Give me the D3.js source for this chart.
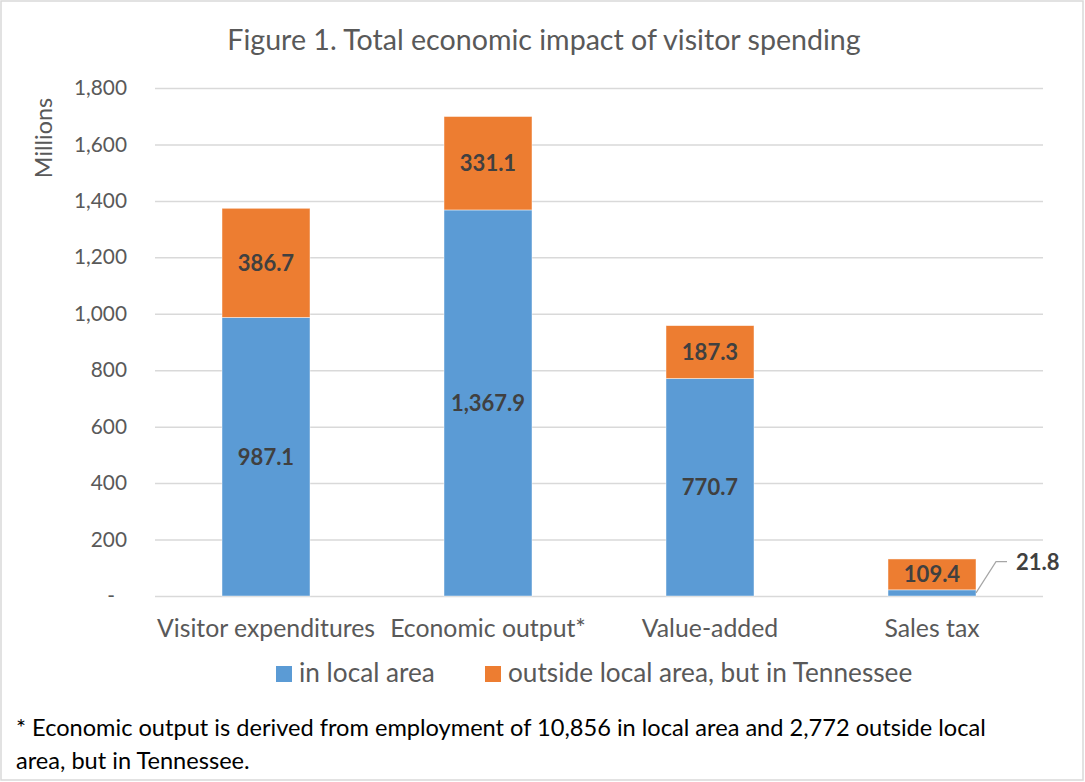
<!DOCTYPE html>
<html>
<head>
<meta charset="utf-8">
<script src="https://cdn.jsdelivr.net/npm/d3@7"></script>
<style>
  html, body { margin: 0; padding: 0; background: #fff; }
  svg { display: block; font-family: Lato, "Open Sans", sans-serif; }
</style>
</head>
<body>
<svg id="chart" width="1085" height="782"></svg>
<script>
// Chart data
const categories = ["Visitor expenditures", "Economic output*", "Value-added", "Sales tax"];
const localArea = [987.1, 1367.9, 770.7, 21.8];
const outsideLocal = [386.7, 331.1, 187.3, 109.4];
const seriesNames = ["in local area", "outside local area, but in Tennessee"];
const yTicks = [0, 200, 400, 600, 800, 1000, 1200, 1400, 1600, 1800];
const titleText = "Figure 1. Total economic impact of visitor spending";
const yAxisTitle = "Millions";
const footnoteLines = [
  "* Economic output is derived from employment of 10,856 in local area and 2,772 outside local",
  "area, but in Tennessee."
];

const colors = ["#5B9BD5", "#ED7D31"];
const textGray = "#595959";
const labelGray = "#404040";

const svg = d3.select("#chart");
const W = 1085, H = 782;

// Outer frame
svg.append("rect")
  .attr("x", 1).attr("y", 1).attr("width", W - 3).attr("height", H - 3)
  .attr("fill", "#fff").attr("stroke", "#d9d9d9").attr("stroke-width", 1.5);

const plot = { left: 155, right: 1043, top: 88, bottom: 596 };

const x = d3.scaleBand()
  .domain(categories)
  .range([plot.left, plot.right])
  .paddingInner(0.6036)
  .paddingOuter(0.3018);

const y = d3.scaleLinear()
  .domain([0, 1800])
  .range([plot.bottom, plot.top]);

// Gridlines
svg.append("g")
  .attr("transform", `translate(${plot.left},0)`)
  .call(d3.axisLeft(y).tickValues(yTicks).tickSize(-(plot.right - plot.left)).tickFormat(""))
  .call(g => g.select(".domain").remove())
  .call(g => g.selectAll("line").attr("stroke", "#d9d9d9").attr("stroke-width", 1.5));

// Y tick labels
const fmt = d3.format(",");
const yAxis = svg.append("g")
  .attr("transform", `translate(${plot.left},0)`)
  .call(d3.axisLeft(y).tickValues(yTicks).tickSize(0).tickPadding(28)
    .tickFormat(d => d === 0 ? "-" : fmt(d)));
yAxis.select(".domain").remove();
yAxis.selectAll("text")
  .attr("fill", textGray)
  .style("font-family", "Lato, sans-serif")
  .style("font-size", "20.8px");
yAxis.selectAll(".tick").filter(d => d === 0).select("text").attr("dx", -12);

// Y axis title
svg.append("text")
  .attr("transform", `translate(52,138) rotate(-90)`)
  .attr("text-anchor", "middle")
  .attr("fill", textGray)
  .style("font-size", "23.4px")
  .text(yAxisTitle);

// Stacked bars
const stacked = categories.map((c, i) => {
  const segs = [];
  segs.push({ cat: c, s: 0, y0: 0, y1: localArea[i], v: localArea[i] });
  segs.push({ cat: c, s: 1, y0: localArea[i], y1: localArea[i] + outsideLocal[i], v: outsideLocal[i] });
  return segs;
}).flat();

svg.append("g")
  .selectAll("rect")
  .data(stacked)
  .join("rect")
  .attr("x", d => x(d.cat))
  .attr("width", x.bandwidth())
  .attr("y", d => y(d.y1))
  .attr("height", d => y(d.y0) - y(d.y1))
  .attr("fill", d => colors[d.s])
  .attr("stroke", "#fff")
  .attr("stroke-opacity", 0.6)
  .attr("stroke-width", 0.75);

// Data labels (small segments get an outside label with leader line)
const labelFmt = d3.format(",.1f");
const inside = stacked.filter(d => (y(d.y0) - y(d.y1)) > 20);
const outside = stacked.filter(d => (y(d.y0) - y(d.y1)) <= 20);

svg.append("g")
  .selectAll("text")
  .data(inside)
  .join("text")
  .attr("x", d => x(d.cat) + x.bandwidth() / 2)
  .attr("y", d => (y(d.y0) + y(d.y1)) / 2)
  .attr("dy", "0.36em")
  .attr("text-anchor", "middle")
  .attr("fill", labelGray)
  .style("font-weight", "bold")
  .style("font-size", "22px")
  .text(d => labelFmt(d.v));

outside.forEach(d => {
  const x0 = x(d.cat) + x.bandwidth();
  const ym = (y(d.y0) + y(d.y1)) / 2;
  const ly = y(d.y1 + 100);
  svg.append("polyline")
    .attr("points", `${x0},${ym} ${x0 + 20},${ly} ${x0 + 31},${ly}`)
    .attr("fill", "none")
    .attr("stroke", "#a6a6a6")
    .attr("stroke-width", 1.2);
  svg.append("text")
    .attr("x", x0 + 40)
    .attr("y", ly)
    .attr("dy", "0.36em")
    .attr("fill", labelGray)
    .style("font-weight", "bold")
    .style("font-size", "22px")
    .text(labelFmt(d.v));
});

// Category labels
const xAxis = svg.append("g")
  .attr("transform", `translate(0,${plot.bottom})`)
  .call(d3.axisBottom(x).tickSize(0).tickPadding(23));
xAxis.select(".domain").remove();
xAxis.selectAll("text")
  .attr("fill", textGray)
  .style("font-family", "Lato, sans-serif")
  .style("font-size", "24.8px");

// Title
svg.append("text")
  .attr("x", 544).attr("y", 50)
  .attr("text-anchor", "middle")
  .attr("fill", textGray)
  .style("font-size", "28.6px")
  .text(titleText);

// Legend
const legendItems = [
  { name: seriesNames[0], color: colors[0], x: 276 },
  { name: seriesNames[1], color: colors[1], x: 485 }
];
const lg = svg.append("g");
legendItems.forEach(it => {
  lg.append("rect").attr("x", it.x).attr("y", 666).attr("width", 16).attr("height", 16).attr("fill", it.color);
  lg.append("text").attr("x", it.x + 23).attr("y", 682)
    .attr("fill", textGray).style("font-size", "26.2px").text(it.name);
});

// Footnote
svg.append("g")
  .selectAll("text")
  .data(footnoteLines)
  .join("text")
  .attr("x", 16)
  .attr("y", (d, i) => 736 + i * 33)
  .attr("fill", "#000")
  .style("font-size", "23.6px")
  .text(d => d);
</script>
</body>
</html>
